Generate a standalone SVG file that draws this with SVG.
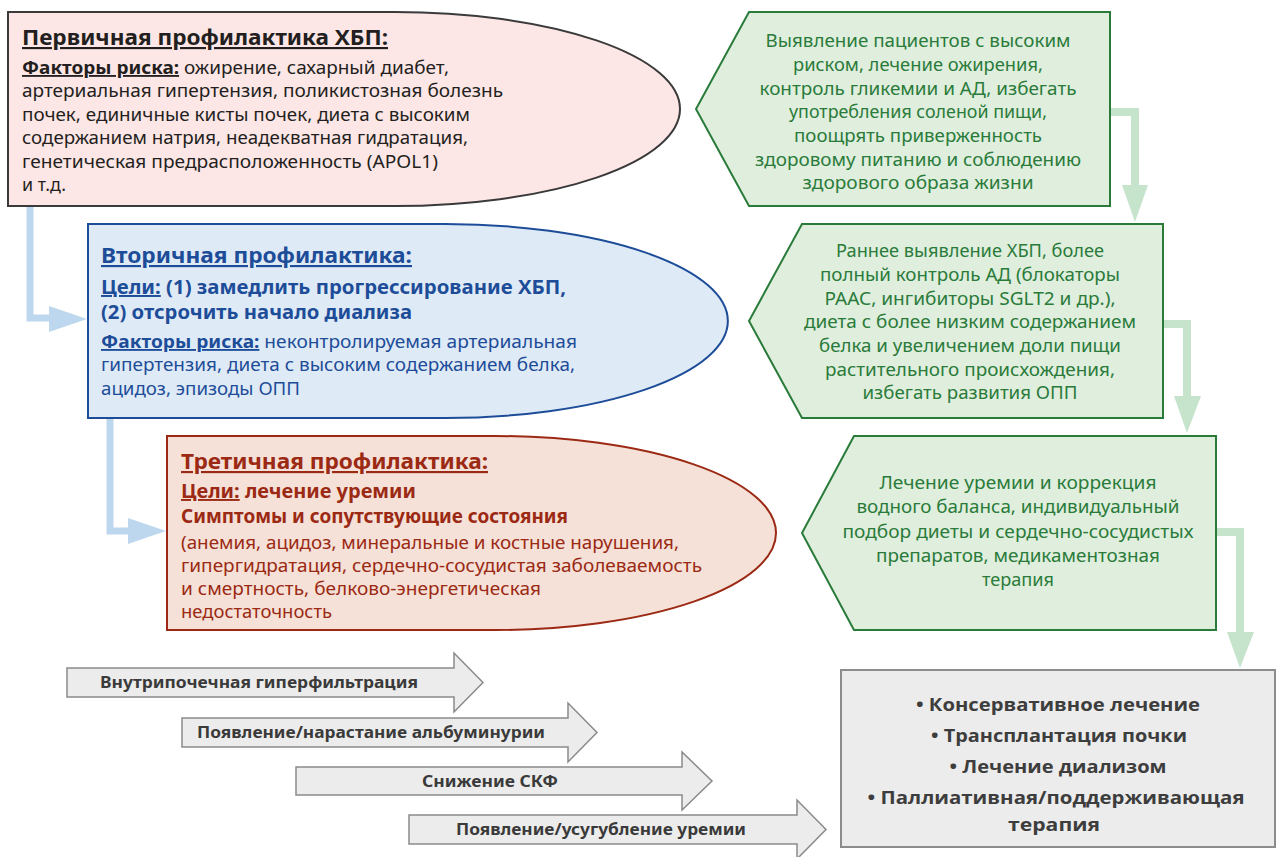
<svg xmlns="http://www.w3.org/2000/svg" width="1280" height="857" viewBox="0 0 1280 857">
<style>
.body{font-family:"Noto Sans","Open Sans","DejaVu Sans",sans-serif;font-size:18.5px}
.tt{font-family:"Noto Sans","Open Sans","DejaVu Sans",sans-serif;font-size:21.5px;font-weight:bold}
.b{font-weight:bold}
.u{text-decoration:underline}
.pk{fill:#231f20}
.bl{fill:#1d4d98}
.rd{fill:#9b2913}
.gr{fill:#2a7b3a}
.gt{font-family:"Noto Sans","Open Sans","DejaVu Sans",sans-serif;font-size:18.5px;fill:#2a7b3a;text-anchor:middle}
.arr{fill:#ececec;stroke:#8a8a8a;stroke-width:1.5}
.at{font-family:"Noto Sans","Open Sans",sans-serif;font-size:16px;font-weight:bold;fill:#3a3a3a;text-anchor:middle}
.gb{font-family:"Open Sans","Noto Sans",sans-serif;font-size:18px;font-weight:bold;fill:#3d3d3d;text-anchor:middle}
.gshape{fill:#dfeedd;stroke:#2a7b3a;stroke-width:2}
.bc{fill:none;stroke:#bdd8ee;stroke-width:7}
.bh{fill:#bdd8ee}
.gc{fill:none;stroke:#c6e3cc;stroke-width:8}
.gh{fill:#c6e3cc}
</style>

<g id="connectors">
  <path class="bc" d="M30,206 V318 H52"/>
  <polygon class="bh" points="49,306 87,319 49,332"/>
  <path class="bc" d="M110,418 V531 H131"/>
  <polygon class="bh" points="128,518 166,531 128,544"/>
  <path class="gc" d="M1110,112 H1135 V187"/>
  <polygon class="gh" points="1122,185 1148,185 1135,222"/>
  <path class="gc" d="M1163,324 H1187 V398"/>
  <polygon class="gh" points="1174,396 1201,396 1187,433"/>
  <path class="gc" d="M1216,532 H1240 V634"/>
  <polygon class="gh" points="1227,632 1254,632 1240,668"/>
</g>

<g id="primary">
  <path d="M8,12 H395 A285,97 0 0 1 395,206 H8 Z" fill="#fde6e6" stroke="#3a3a3a" stroke-width="2"/>
  <text class="tt pk" x="22" y="45" textLength="366" lengthAdjust="spacingAndGlyphs"><tspan class="u">Первичная профилактика ХБП:</tspan></text>
  <text class="body pk" x="22" y="74" textLength="427" lengthAdjust="spacingAndGlyphs"><tspan class="b u">Факторы риска:</tspan> ожирение, сахарный диабет,</text>
  <text class="body pk" x="22" y="97" textLength="481" lengthAdjust="spacingAndGlyphs">артериальная гипертензия, поликистозная болезнь</text>
  <text class="body pk" x="22" y="121" textLength="448" lengthAdjust="spacingAndGlyphs">почек, единичные кисты почек, диета с высоким</text>
  <text class="body pk" x="22" y="144" textLength="446" lengthAdjust="spacingAndGlyphs">содержанием натрия, неадекватная гидратация,</text>
  <text class="body pk" x="22" y="168" textLength="416" lengthAdjust="spacingAndGlyphs">генетическая предрасположенность (APOL1)</text>
  <text class="body pk" x="22" y="191" textLength="44" lengthAdjust="spacingAndGlyphs">и т.д.</text>
</g>

<g id="secondary">
  <path d="M88,224 H445 A283,97 0 0 1 445,418 H88 Z" fill="#dfeaf7" stroke="#1d4d98" stroke-width="2"/>
  <text class="tt bl" x="101" y="263" textLength="311" lengthAdjust="spacingAndGlyphs"><tspan class="u">Вторичная профилактика:</tspan></text>
  <text class="body b bl" x="101" y="294" textLength="465" lengthAdjust="spacingAndGlyphs" style="font-size:19.5px"><tspan class="u">Цели:</tspan> (1) замедлить прогрессирование ХБП,</text>
  <text class="body b bl" x="101" y="319" textLength="311" lengthAdjust="spacingAndGlyphs" style="font-size:19.5px">(2) отсрочить начало диализа</text>
  <text class="body bl" x="101" y="348" textLength="476" lengthAdjust="spacingAndGlyphs"><tspan class="b u">Факторы риска:</tspan> неконтролируемая артериальная</text>
  <text class="body bl" x="101" y="371" textLength="474" lengthAdjust="spacingAndGlyphs">гипертензия, диета с высоким содержанием белка,</text>
  <text class="body bl" x="101" y="395" textLength="199" lengthAdjust="spacingAndGlyphs">ацидоз, эпизоды ОПП</text>
</g>

<g id="tertiary">
  <path d="M167,436 H495 A281,97 0 0 1 495,630 H167 Z" fill="#f5e1d7" stroke="#9b2913" stroke-width="2"/>
  <text class="tt rd" x="181" y="469" textLength="307" lengthAdjust="spacingAndGlyphs"><tspan class="u">Третичная профилактика:</tspan></text>
  <text class="body b rd" x="181" y="498" textLength="235" lengthAdjust="spacingAndGlyphs" style="font-size:19px"><tspan class="u">Цели:</tspan> лечение уремии</text>
  <text class="body b rd" x="181" y="523" textLength="387" lengthAdjust="spacingAndGlyphs" style="font-size:19px">Симптомы и сопутствующие состояния</text>
  <text class="body rd" x="181" y="549" textLength="498" lengthAdjust="spacingAndGlyphs">(анемия, ацидоз, минеральные и костные нарушения,</text>
  <text class="body rd" x="181" y="572" textLength="521" lengthAdjust="spacingAndGlyphs">гипергидратация, сердечно-сосудистая заболеваемость</text>
  <text class="body rd" x="181" y="595" textLength="360" lengthAdjust="spacingAndGlyphs">и смертность, белково-энергетическая</text>
  <text class="body rd" x="181" y="618" textLength="151" lengthAdjust="spacingAndGlyphs">недостаточность</text>
</g>

<g id="green1">
  <polygon class="gshape" points="749,12 1110,12 1110,206 749,206 696,109"/>
  <text class="gt" x="918" y="47" textLength="305" lengthAdjust="spacingAndGlyphs">Выявление пациентов с высоким</text>
  <text class="gt" x="918" y="71" textLength="250" lengthAdjust="spacingAndGlyphs">риском, лечение ожирения,</text>
  <text class="gt" x="918" y="95" textLength="317" lengthAdjust="spacingAndGlyphs">контроль гликемии и АД, избегать</text>
  <text class="gt" x="918" y="118" textLength="258" lengthAdjust="spacingAndGlyphs">употребления соленой пищи,</text>
  <text class="gt" x="918" y="142" textLength="248" lengthAdjust="spacingAndGlyphs">поощрять приверженность</text>
  <text class="gt" x="918" y="166" textLength="326" lengthAdjust="spacingAndGlyphs">здоровому питанию и соблюдению</text>
  <text class="gt" x="918" y="189" textLength="231" lengthAdjust="spacingAndGlyphs">здорового образа жизни</text>
</g>

<g id="green2">
  <polygon class="gshape" points="802,224 1163,224 1163,418 802,418 749,321"/>
  <text class="gt" x="970" y="257" textLength="268" lengthAdjust="spacingAndGlyphs">Раннее выявление ХБП, более</text>
  <text class="gt" x="970" y="281" textLength="300" lengthAdjust="spacingAndGlyphs">полный контроль АД (блокаторы</text>
  <text class="gt" x="970" y="305" textLength="291" lengthAdjust="spacingAndGlyphs">РААС, ингибиторы SGLT2 и др.),</text>
  <text class="gt" x="970" y="328" textLength="332" lengthAdjust="spacingAndGlyphs">диета с более низким содержанием</text>
  <text class="gt" x="970" y="352" textLength="302" lengthAdjust="spacingAndGlyphs">белка и увеличением доли пищи</text>
  <text class="gt" x="970" y="376" textLength="290" lengthAdjust="spacingAndGlyphs">растительного происхождения,</text>
  <text class="gt" x="970" y="399" textLength="215" lengthAdjust="spacingAndGlyphs">избегать развития ОПП</text>
</g>

<g id="green3">
  <polygon class="gshape" points="854,436 1216,436 1216,630 854,630 802,533"/>
  <text class="gt" x="1018" y="489" textLength="277" lengthAdjust="spacingAndGlyphs">Лечение уремии и коррекция</text>
  <text class="gt" x="1018" y="513" textLength="323" lengthAdjust="spacingAndGlyphs">водного баланса, индивидуальный</text>
  <text class="gt" x="1018" y="538" textLength="351" lengthAdjust="spacingAndGlyphs">подбор диеты и сердечно-сосудистых</text>
  <text class="gt" x="1018" y="562" textLength="284" lengthAdjust="spacingAndGlyphs">препаратов, медикаментозная</text>
  <text class="gt" x="1018" y="586" textLength="72" lengthAdjust="spacingAndGlyphs">терапия</text>
</g>

<g id="stage1">
  <polygon class="arr" points="67,668 454,668 454,653 483,682.5 454,712 454,697 67,697"/>
  <text class="at" x="259" y="688" textLength="318" lengthAdjust="spacingAndGlyphs">Внутрипочечная гиперфильтрация</text>
</g>
<g id="stage2">
  <polygon class="arr" points="182,718 568,718 568,703 597,732.5 568,762 568,747 182,747"/>
  <text class="at" x="371" y="738" textLength="348" lengthAdjust="spacingAndGlyphs">Появление/нарастание альбуминурии</text>
</g>
<g id="stage3">
  <polygon class="arr" points="296,767 682,767 682,752 712,781 682,810 682,795 296,795"/>
  <text class="at" x="490" y="787" textLength="136" lengthAdjust="spacingAndGlyphs">Снижение СКФ</text>
</g>
<g id="stage4">
  <polygon class="arr" points="409,815 797,815 797,800 826,829.5 797,859 797,844 409,844"/>
  <text class="at" x="601" y="835" textLength="290" lengthAdjust="spacingAndGlyphs">Появление/усугубление уремии</text>
</g>

<g id="outcomes">
  <rect x="841" y="670" width="434" height="177" fill="#ececec" stroke="#8c8c8c" stroke-width="2"/>
  <text class="gb" x="1058" y="711" textLength="284" lengthAdjust="spacingAndGlyphs">• Консервативное лечение</text>
  <text class="gb" x="1059" y="742" textLength="256" lengthAdjust="spacingAndGlyphs">• Трансплантация почки</text>
  <text class="gb" x="1058" y="773" textLength="217" lengthAdjust="spacingAndGlyphs">• Лечение диализом</text>
  <text class="gb" x="1056" y="804" textLength="377" lengthAdjust="spacingAndGlyphs">• Паллиативная/поддерживающая</text>
  <text class="gb" x="1054" y="831" textLength="92" lengthAdjust="spacingAndGlyphs">терапия</text>
</g>
</svg>
